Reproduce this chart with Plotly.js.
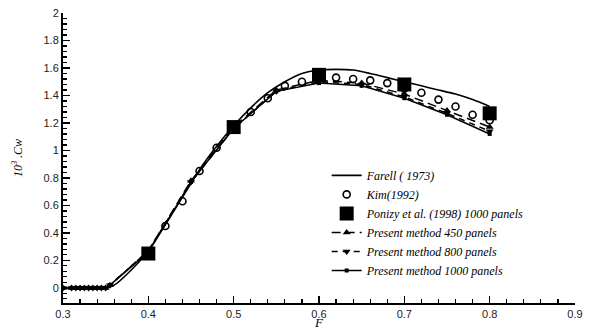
<!DOCTYPE html>
<html><head><meta charset="utf-8">
<script src="https://cdn.plot.ly/plotly-3.0.1.min.js"></script>
<style>html,body{margin:0;padding:0;background:#fff}#chart{width:592px;height:330px}</style>
</head><body><div id="chart"></div>
<script>
// Farell (1973) analytic curve
const farellF  = [0.30,0.35,0.36,0.38,0.40,0.42,0.44,0.46,0.48,0.50,0.52,0.54,0.56,0.58,0.60,0.62,0.64,0.66,0.68,0.70,0.72,0.74,0.76,0.78,0.80];
const farellCw = [0.00,0.00,0.02,0.13,0.27,0.46,0.66,0.86,1.03,1.18,1.31,1.42,1.50,1.56,1.585,1.59,1.585,1.56,1.53,1.50,1.47,1.44,1.41,1.37,1.32];
// Kim (1992)
const kimF  = [0.42,0.44,0.46,0.48,0.50,0.52,0.54,0.56,0.58,0.60,0.62,0.64,0.66,0.68,0.70,0.72,0.74,0.76,0.78,0.80];
const kimCw = [0.45,0.63,0.85,1.02,1.17,1.28,1.38,1.47,1.50,1.52,1.53,1.52,1.51,1.49,1.45,1.42,1.37,1.32,1.26,1.22];
// Ponizy et al. (1998) 1000 panels
const ponF  = [0.40,0.50,0.60,0.70,0.80];
const ponCw = [0.25,1.17,1.55,1.48,1.27];
// Present method
const presF    = [0.30,0.31,0.315,0.32,0.325,0.33,0.335,0.34,0.345,0.35,0.355,0.40,0.45,0.50,0.55,0.60,0.65,0.70,0.75,0.80];
const pres450  = [0.00,0.00,0.00,0.00,0.00,0.00,0.00,0.00,0.00,0.00,0.02,0.27,0.78,1.17,1.44,1.51,1.49,1.41,1.29,1.17];
const pres800  = [0.00,0.00,0.00,0.00,0.00,0.00,0.00,0.00,0.00,0.00,0.02,0.27,0.77,1.16,1.43,1.50,1.48,1.39,1.27,1.14];
const pres1000 = [0.00,0.00,0.00,0.00,0.00,0.00,0.00,0.00,0.00,0.00,0.02,0.26,0.77,1.16,1.43,1.49,1.47,1.38,1.26,1.12];

const names = ["Farell ( 1973)","Kim(1992)","Ponizy et al. (1998) 1000 panels",
  "Present method 450 panels","Present method 800 panels","Present method 1000 panels"];

const serif = 'Liberation Serif, Times New Roman, serif';
const traces = [
  {x:farellF,y:farellCw,name:names[0],mode:'lines',line:{color:'#000',width:1.6,shape:'spline',smoothing:0.6}},
  {x:kimF,y:kimCw,name:names[1],mode:'markers',marker:{symbol:'circle-open',size:7,color:'#000',line:{width:1.6,color:'#000'}}},
  {x:ponF,y:ponCw,name:names[2],mode:'markers',marker:{symbol:'square',size:14,color:'#000'}},
  {x:presF,y:pres450,name:names[3],mode:'lines+markers',line:{color:'#000',width:1.5,dash:'9px,5px'},marker:{symbol:'triangle-up',size:7,color:'#000'}},
  {x:presF,y:pres800,name:names[4],mode:'lines+markers',line:{color:'#000',width:1.5,dash:'6px,5px'},marker:{symbol:'triangle-down',size:7,color:'#000'}},
  {x:presF,y:pres1000,name:names[5],mode:'lines+markers',line:{color:'#000',width:1.5},marker:{symbol:'square',size:4,color:'#000'}}
];

const tickFont = {family:'Liberation Sans, Arial, sans-serif',size:11,color:'#222'};
const layout = {
  width:592,height:330,
  margin:{l:63,r:17,t:13,b:27},
  paper_bgcolor:'#fff',plot_bgcolor:'#fff',
  showlegend:true,
  legend:{x:0.515,y:0.49,xanchor:'left',yanchor:'top',bgcolor:'rgba(0,0,0,0)',
    font:{family:serif,size:12,color:'#000',style:'italic'},
    tracegroupgap:0,itemwidth:30},
  xaxis:{range:[0.3,0.9],dtick:0.1,tick0:0.3,showgrid:false,zeroline:false,
    showline:true,linecolor:'#000',linewidth:2,ticks:'inside',ticklen:7,tickwidth:1.5,tickcolor:'#000',
    minor:{dtick:0.02,ticks:'inside',ticklen:4,tickwidth:1.2,tickcolor:'#000',showgrid:false},
    tickfont:tickFont,tickformat:'.1f',
    title:{text:'F',font:{family:serif,size:13,style:'italic',color:'#000'},standoff:1}},
  yaxis:{range:[-0.11,2.0],dtick:0.2,tick0:0,showgrid:false,zeroline:false,
    showline:true,linecolor:'#000',linewidth:2,ticks:'inside',ticklen:7,tickwidth:1.5,tickcolor:'#000',
    minor:{dtick:0.04,ticks:'inside',ticklen:4,tickwidth:1.2,tickcolor:'#000',showgrid:false},
    tickfont:tickFont,
    title:{text:'10<sup>3</sup> .Cw',font:{family:serif,size:12,style:'italic',color:'#000'},standoff:18}}
};
Plotly.newPlot('chart',traces,layout,{displayModeBar:false,staticPlot:true});
</script></body></html>
